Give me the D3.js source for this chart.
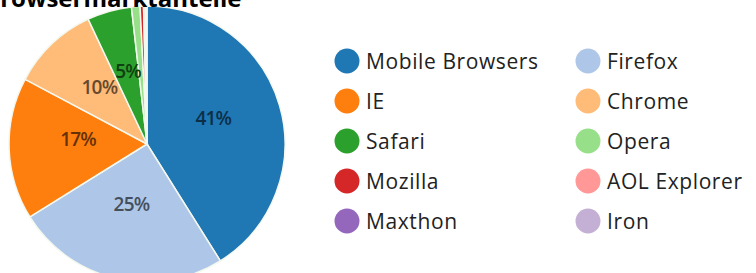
<!DOCTYPE html>
<html>
<head>
<meta charset="utf-8">
<script src="https://cdn.jsdelivr.net/npm/d3@7"></script>
<style>
  body { margin: 0; background: #fff; }
  svg { display: block; font-family: "Open Sans", sans-serif; }
</style>
</head>
<body>
<div id="chart"></div>
<script>
// browser share data
var browsers = ["Mobile Browsers", "Firefox", "IE", "Chrome", "Safari",
                "Opera", "Mozilla", "AOL Explorer", "Maxthon", "Iron"];
var shares = [41, 25, 16.6, 10.2, 5.2, 1.0, 0.4, 0.2, 0.1, 0.1];
var colors = ["#1f77b4", "#aec7e8", "#ff7f0e", "#ffbb78", "#2ca02c",
              "#98df8a", "#d62728", "#ff9896", "#9467bd", "#c5b0d5"];
var title = "Browsermarktanteile";

var width = 756, height = 273;
var radius = 138;

var svg = d3.select("#chart")
  .append("svg")
  .attr("width", width)
  .attr("height", height);

var data = browsers.map(function(b, i) { return {name: b, value: shares[i]}; });

var color = d3.scaleOrdinal().domain(browsers).range(colors);

var pie = d3.pie().sort(null).value(function(d) { return d.value; });
var arc = d3.arc().innerRadius(0).outerRadius(radius);
var labelArc = d3.arc().innerRadius(radius / 2).outerRadius(radius / 2);

var g = svg.append("g")
  .attr("transform", "translate(147,144)");

g.selectAll("path")
  .data(pie(data))
  .enter()
  .append("path")
  .attr("d", arc)
  .style("fill", function(d) { return color(d.data.name); })
  .style("stroke", "#f4f8ee")
  .style("stroke-width", 1.5);

// only label the larger slices
g.selectAll(".label")
  .data(pie(data).filter(function(d) { return d.data.value >= 4; }))
  .enter()
  .append("text")
  .attr("class", "label")
  .attr("transform", function(d) { return "translate(" + labelArc.centroid(d) + ")"; })
  .style("text-anchor", "middle")
  .style("font-size", "19px")
  .style("font-weight", "600")
  .style("letter-spacing", "-0.8px")
  .style("fill", function(d) { return d3.color(color(d.data.name)).darker(2.6); })
  .text(function(d) { return Math.round(d.data.value) + "%"; });

// title, partly cut off at the top
svg.append("text")
  .attr("x", -16)
  .attr("y", 7)
  .style("font-weight", "bold")
  .style("font-size", "24px")
  .style("fill", "#000")
  .text(title);

// legend, two columns
var legend = svg.selectAll(".legend")
  .data(browsers)
  .enter()
  .append("g")
  .attr("class", "legend")
  .attr("transform", function(d, i) {
    return "translate(" + (347 + (i % 2) * 241) + "," + (61 + Math.floor(i / 2) * 40) + ")";
  });

legend.append("circle")
  .attr("r", 12.5)
  .style("fill", function(d) { return color(d); });

legend.append("text")
  .attr("x", 19)
  .attr("dy", "0.36em")
  .style("font-size", "21px")
  .style("letter-spacing", "0.6px")
  .style("fill", "#222")
  .text(function(d) { return d; });
</script>
</body>
</html>
